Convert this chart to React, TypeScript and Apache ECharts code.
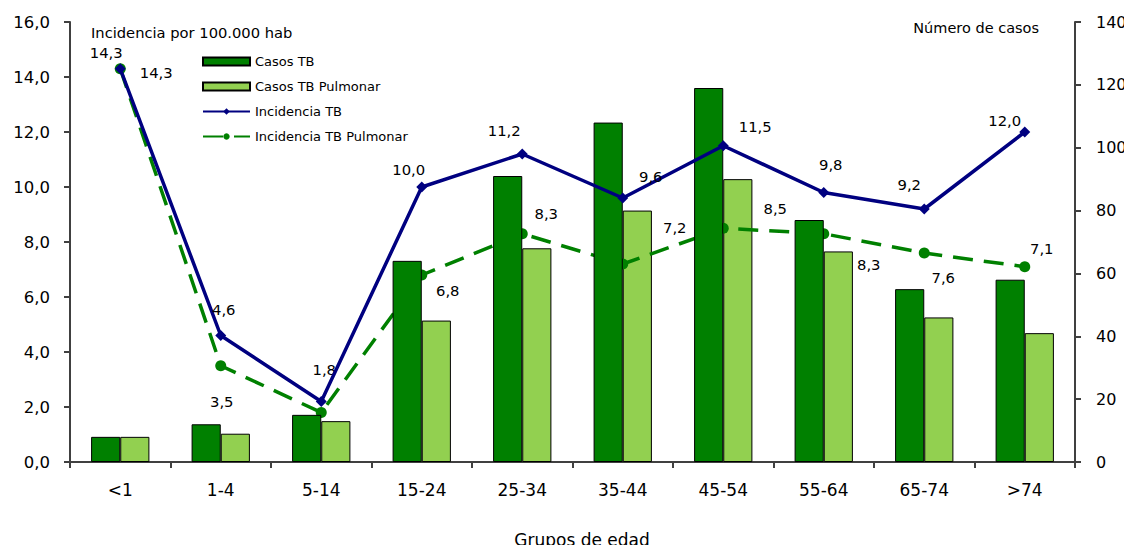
import React, { useEffect, useRef } from "react";
import * as echarts from "echarts";

const categories = ["<1", "1-4", "5-14", "15-24", "25-34", "35-44", "45-54", "55-64", "65-74", ">74"];
const casosTB = [8, 12, 15, 64, 91, 108, 119, 77, 55, 58];
const casosTBPulmonar = [8, 9, 13, 45, 68, 80, 90, 67, 46, 41];
const incidenciaTB = [14.3, 4.6, 2.2, 10.0, 11.2, 9.6, 11.5, 9.8, 9.2, 12.0];
const incidenciaTBPulmonar = [14.3, 3.5, 1.8, 6.8, 8.3, 7.2, 8.5, 8.3, 7.6, 7.1];
const leftTicks = { min: 0, max: 16, interval: 2 };
const rightTicks = { min: 0, max: 140, interval: 20 };

// label offsets (layout only)
const tbOffsets: ([number, number] | null)[] = [[-14, -16], [3, -26], null, [-13, -18], [-18, -24], [28, -22], [32, -19], [7, -28], [-15, -25], [-20, -12]];
const pulOffsets: ([number, number] | null)[] = [[36, 4], [1, 36], [3, -43], [26, 15], [24, -20], [52, -37], [52, -20], [45, 31], [19, 24], [17, -18]];

const FONT = "DejaVu Sans";
const fmt = (v: number) => v.toFixed(1).replace(".", ",");

export default function App() {
  const ref = useRef<HTMLDivElement>(null);
  useEffect(() => {
    if (!ref.current) return;
    const chart = echarts.init(ref.current, undefined, { renderer: "svg" });
    const lbl = (vals: number[], offs: ([number, number] | null)[]) =>
      vals.map((v, i) => ({
        value: v,
        label: offs[i]
          ? { show: true, position: "inside", offset: offs[i], formatter: fmt(v), color: "#000", fontSize: 14.8, fontFamily: FONT }
          : { show: false },
      }));
    chart.setOption({
      animation: false,
      textStyle: { fontFamily: FONT },
      grid: { left: 70, right: 57, top: 22, bottom: 91 },
      legend: {
        orient: "vertical",
        left: 202,
        top: 55,
        padding: 0,
        itemWidth: 47,
        itemHeight: 8,
        itemGap: 12,
        textStyle: { fontSize: 13, color: "#000", fontFamily: FONT },
        data: [
          { name: "Casos TB", icon: "rect" },
          { name: "Casos TB Pulmonar", icon: "rect" },
          { name: "Incidencia TB" },
          { name: "Incidencia TB Pulmonar" },
        ],
      },
      xAxis: {
        type: "category",
        data: categories,
        axisLine: { lineStyle: { color: "#404040", width: 2 } },
        axisTick: { show: true, alignWithLabel: false, length: 6, lineStyle: { color: "#404040", width: 2 } },
        axisLabel: { fontSize: 17, color: "#000", margin: 19, fontFamily: FONT },
      },
      yAxis: [
        {
          type: "value",
          ...leftTicks,
          position: "left",
          splitLine: { show: false },
          axisLine: { show: true, lineStyle: { color: "#404040", width: 2 } },
          axisTick: { show: true, length: 6, lineStyle: { color: "#404040", width: 2 } },
          axisLabel: { fontSize: 16.5, color: "#000", margin: 20, formatter: (v: number) => fmt(v), fontFamily: FONT },
        },
        {
          type: "value",
          ...rightTicks,
          position: "right",
          splitLine: { show: false },
          axisLine: { show: true, lineStyle: { color: "#404040", width: 2 } },
          axisTick: { show: true, length: 6, lineStyle: { color: "#404040", width: 2 } },
          axisLabel: { fontSize: 16, color: "#000", margin: 21, fontFamily: FONT },
        },
      ],
      series: [
        {
          name: "Casos TB",
          type: "bar",
          yAxisIndex: 1,
          z: 3,
          data: casosTB,
          barGap: "0%",
          barCategoryGap: "42%",
          itemStyle: { color: "#008000", borderColor: "#000", borderWidth: 1 },
        },
        {
          name: "Casos TB Pulmonar",
          type: "bar",
          yAxisIndex: 1,
          z: 1,
          data: casosTBPulmonar,
          itemStyle: { color: "#92D050", borderColor: "#000", borderWidth: 1 },
        },
        {
          name: "Incidencia TB",
          type: "line",
          yAxisIndex: 0,
          z: 4,
          data: lbl(incidenciaTB, tbOffsets),
          symbol: "diamond",
          symbolSize: 11,
          lineStyle: { color: "#000080", width: 3.5 },
          itemStyle: { color: "#000080" },
        },
        {
          name: "Incidencia TB Pulmonar",
          type: "line",
          yAxisIndex: 0,
          z: 2,
          data: lbl(incidenciaTBPulmonar, pulOffsets),
          symbol: "circle",
          symbolSize: 11,
          lineStyle: { color: "#008000", width: 3.5, type: [20, 11] },
          itemStyle: { color: "#008000" },
        },
      ],
      graphic: [
        { type: "text", x: 91, y: 32, style: { text: "Incidencia por 100.000 hab", fontSize: 14.7, fill: "#000", fontFamily: FONT, verticalAlign: "middle" } },
        { type: "text", x: 1039, y: 28, style: { text: "Número de casos", fontSize: 14.5, fill: "#000", fontFamily: FONT, align: "right", verticalAlign: "middle" } },
        { type: "text", x: 582, y: 540, style: { text: "Grupos de edad", fontSize: 17, fill: "#000", fontFamily: FONT, align: "center", verticalAlign: "middle" } },
      ],
    });
    return () => chart.dispose();
  }, []);
  return <div ref={ref} style={{ width: 1132, height: 553, margin: -8 }} />;
}
